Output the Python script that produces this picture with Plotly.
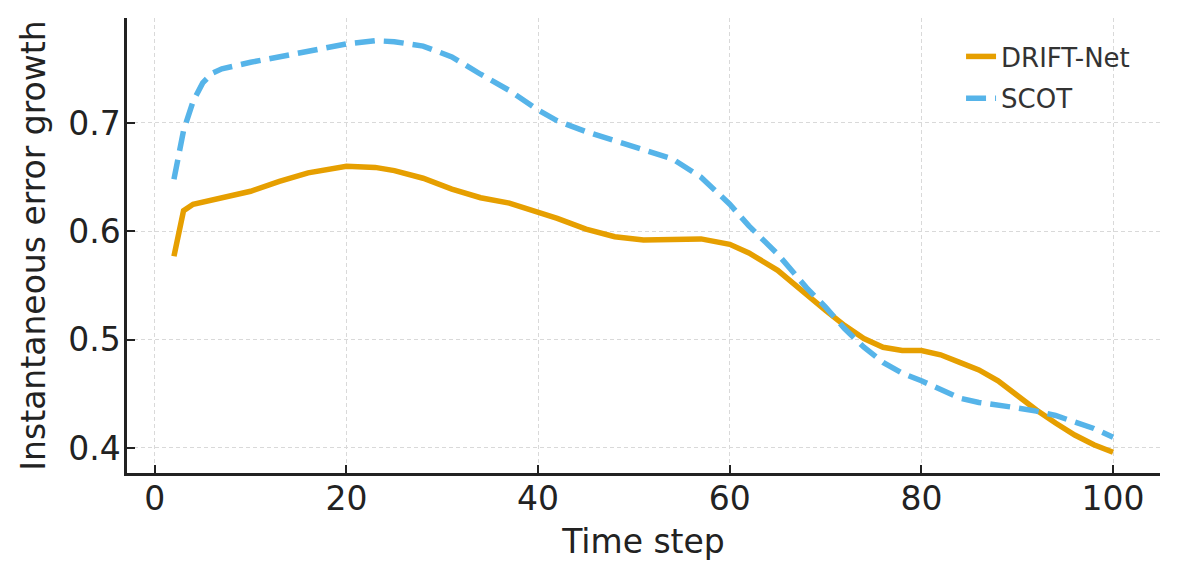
import plotly.graph_objects as go

steps = [2, 3, 4, 5, 6, 7, 10, 13, 16, 20, 23, 25, 28, 31, 34, 37, 40, 42, 45, 48,
         51, 54, 57, 60, 62, 65, 68, 70, 72, 74, 76, 78, 80, 82, 84, 86, 88, 90,
         92, 94, 96, 98, 100]

drift_net = [0.577, 0.619, 0.625, 0.627, 0.628, 0.630, 0.637, 0.646, 0.654, 0.660,
             0.659, 0.656, 0.649, 0.639, 0.631, 0.626, 0.618, 0.612, 0.602, 0.595,
             0.592, 0.593, 0.593, 0.588, 0.580, 0.564, 0.541, 0.527, 0.513, 0.501,
             0.493, 0.490, 0.490, 0.486, 0.479, 0.472, 0.462, 0.448, 0.435, 0.423,
             0.412, 0.403, 0.396]

scot = [0.648, 0.693, 0.720, 0.737, 0.746, 0.750, 0.756, 0.761, 0.766, 0.773,
        0.776, 0.775, 0.771, 0.761, 0.745, 0.730, 0.712, 0.702, 0.692, 0.684,
        0.676, 0.667, 0.650, 0.625, 0.605, 0.579, 0.548, 0.530, 0.510, 0.493,
        0.479, 0.469, 0.462, 0.454, 0.446, 0.442, 0.440, 0.437, 0.434, 0.430,
        0.424, 0.418, 0.410]

x_ticks = [0, 20, 40, 60, 80, 100]
y_ticks = [0.4, 0.5, 0.6, 0.7]
y_tick_labels = ["0.4", "0.5", "0.6", "0.7"]

FONT = "DejaVu Sans"
AX = "#222222"

fig = go.Figure()
fig.add_trace(go.Scatter(x=steps, y=drift_net, mode="lines", name="DRIFT-Net",
                         legendgroup="a",
                         line=dict(color="#E69F00", width=5.5)))
fig.add_trace(go.Scatter(x=steps, y=scot, mode="lines", name="SCOT",
                         legendgroup="b",
                         line=dict(color="#56B4E9", width=5.5, dash="20px,9px")))

fig.update_layout(
    width=1172, height=572,
    margin=dict(l=119, r=20, t=10, b=107),
    paper_bgcolor="white", plot_bgcolor="white",
    font=dict(family=FONT, size=33, color=AX),
    legend=dict(x=0.8074, y=0.967, xanchor="left", yanchor="top",
                bgcolor="rgba(0,0,0,0)", borderwidth=0, tracegroupgap=5,
                font=dict(size=26, color="#333333", family=FONT)),
    xaxis=dict(
        range=[-2.9, 104.9], tickvals=x_ticks, ticks="inside", ticklen=8,
        tickwidth=2, tickcolor=AX, showline=True, linecolor=AX, linewidth=2.5,
        mirror=False, showgrid=True, gridcolor="#d9d9d9", gridwidth=1,
        griddash="4px,3px", zeroline=False, automargin=False,
        ticklabelstandoff=-5,
        title=dict(text="Time step", font=dict(size=33, color=AX), standoff=13),
        tickfont=dict(size=33, color=AX),
    ),
    yaxis=dict(
        range=[0.3769, 0.7969], tickvals=y_ticks, ticktext=y_tick_labels,
        ticks="inside", ticklen=8, tickwidth=2, tickcolor=AX, showline=True,
        linecolor=AX, linewidth=2.5, mirror=False, showgrid=True,
        gridcolor="#d9d9d9", gridwidth=1, griddash="4px,3px", zeroline=False,
        automargin=False, ticklabelstandoff=-3,
        title=dict(text="Instantaneous error growth", font=dict(size=33, color=AX),
                   standoff=13),
        tickfont=dict(size=33, color=AX),
    ),
)

fig.write_html("out.html")
